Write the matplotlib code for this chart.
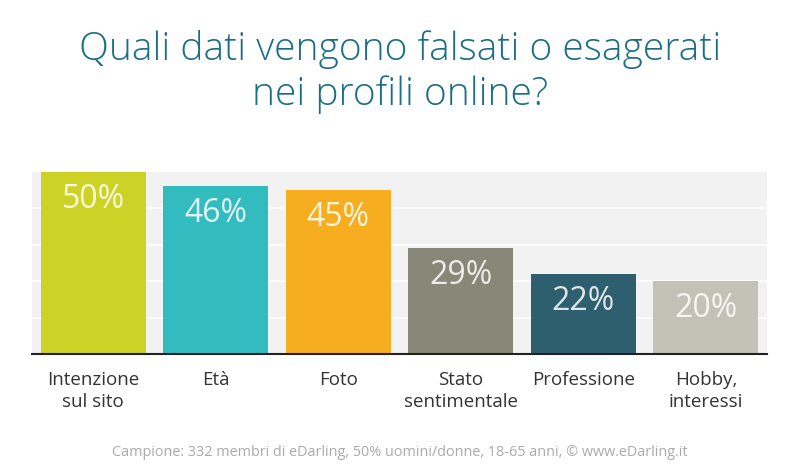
import matplotlib.pyplot as plt
import numpy as np

categories = ['Intenzione\nsul sito', 'Età', 'Foto', 'Stato\nsentimentale', 'Professione', 'Hobby,\ninteressi']
values = [50, 46, 45, 29, 22, 20]
colors = ['#ccd326', '#33bcbf', '#f6ae20', '#888878', '#2e5f6e', '#c4c2b6']

plt.rcParams['font.family'] = ['Open Sans', 'DejaVu Sans']

fig = plt.figure(figsize=(8, 4.67), dpi=100)
ax = fig.add_axes([0.04, 0.242, 0.919, 0.390])
ax.set_facecolor('#f2f2f2')

x = np.arange(len(values))
ax.bar(x, values, width=0.857, color=colors, zorder=3)
for xi, v in zip(x, values):
    ax.text(xi, v - 3.0, f'{v}%', ha='center', va='top', fontsize=23,
            color='white', alpha=0.85, zorder=4)

ax.set_xlim(-0.5, 5.5)
ax.set_ylim(0, 50)
ax.set_yticks([10, 20, 30, 40])
ax.yaxis.grid(True, color='white', linewidth=1.2, zorder=1)
ax.tick_params(left=False, labelleft=False, bottom=False, labelbottom=False)
for s in ['top', 'right', 'left']:
    ax.spines[s].set_visible(False)
ax.spines['bottom'].set_color('#222222')
ax.spines['bottom'].set_linewidth(1.5)
ax.spines['bottom'].set_zorder(5)

for xi, lab in zip(x, categories):
    ax.text(xi, -4.6, lab, ha='center', va='top', fontsize=13.5,
            color='#333333', linespacing=1.3)

fig.text(0.5, 0.935, 'Quali dati vengono falsati o esagerati\nnei profili online?',
         ha='center', va='top', fontsize=28, color='#1b6e84', fontweight='light',
         linespacing=1.2)

fig.text(0.5, 0.015, 'Campione: 332 membri di eDarling, 50% uomini/donne, 18-65 anni, © www.eDarling.it',
         ha='center', va='bottom', fontsize=10.4, color='#aaaaaa')

fig.savefig('out.png', dpi=100)
